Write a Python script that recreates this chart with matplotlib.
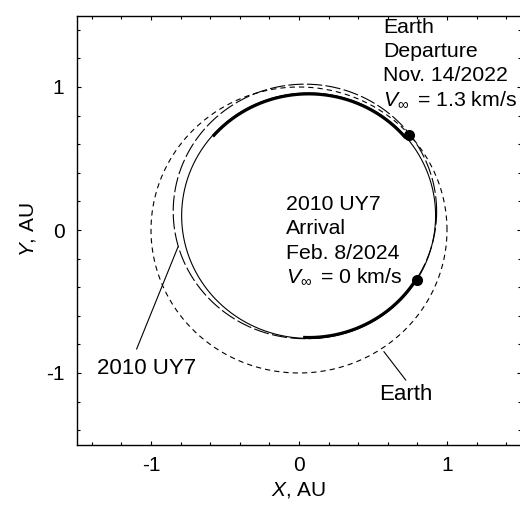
import numpy as np
import matplotlib
matplotlib.use("Agg")
import matplotlib.pyplot as plt
from matplotlib.ticker import MultipleLocator

plt.rcParams['font.family'] = ['Liberation Sans', 'DejaVu Sans']
plt.rcParams['mathtext.fontset'] = 'custom'
plt.rcParams['mathtext.rm'] = 'Liberation Sans'
plt.rcParams['mathtext.it'] = 'Liberation Sans:italic'
plt.rcParams['axes.unicode_minus'] = False
plt.rcParams['lines.scale_dashes'] = False

# ---- data (AU) ----
earth_center = (0.0, 0.0)
earth_radius = 1.0
uy7_center = (0.04, 0.13)
uy7_radius = 0.89
transfer_center = (0.065, 0.10)
transfer_radius = 0.858
thrust_arcs_deg = [(39.7, 139.4), (267.5, 328.4)]
departure_xy = (0.745, 0.664)
arrival_xy = (0.795, -0.35)

departure_lines = ["Earth", "Departure", "Nov. 14/2022", r"$V_{\infty}\,$ = 1.3 km/s"]
arrival_lines = ["2010 UY7", "Arrival", "Feb. 8/2024", r"$V_{\infty}\,$ = 0 km/s"]
x_ticks = [-1, 0, 1]
y_ticks = [-1, 0, 1]

W, H = 520, 507
fig = plt.figure(figsize=(W / 100, H / 100), dpi=100)
ax = fig.add_axes([77 / W, (H - 444.5) / H, 444 / W, 429 / H])

t = np.linspace(0, 2 * np.pi, 721)
thin = 0.8

# Earth orbit (short dash)
ax.plot(earth_center[0] + earth_radius * np.cos(t), earth_center[1] + earth_radius * np.sin(t),
        color='black', lw=thin, dashes=(3.8, 2.9))
# 2010 UY7 orbit (long dash)
ax.plot(uy7_center[0] + uy7_radius * np.cos(t), uy7_center[1] + uy7_radius * np.sin(t),
        color='black', lw=thin, dashes=(11, 2.4))
# transfer trajectory (thin solid)
ax.plot(transfer_center[0] + transfer_radius * np.cos(t), transfer_center[1] + transfer_radius * np.sin(t),
        color='black', lw=thin)
# thrust arcs (thick)
for a0, a1 in thrust_arcs_deg:
    a = np.radians(np.linspace(a0, a1, 200))
    ax.plot(transfer_center[0] + (transfer_radius - 0.006) * np.cos(a),
            transfer_center[1] + (transfer_radius - 0.006) * np.sin(a),
            color='black', lw=2.3, solid_capstyle='butt')

ax.plot(*departure_xy, 'o', color='black', ms=7)
ax.plot(*arrival_xy, 'o', color='black', ms=7)

fs = 15.3
dy = 24.4 / 143
for i, s in enumerate(departure_lines):
    ax.text(0.570, 1.380 - i * dy, s, fontsize=fs, ha='left', va='baseline')
for i, s in enumerate(arrival_lines):
    ax.text(-0.088, 0.140 - i * dy, s, fontsize=fs, ha='left', va='baseline')

ax.text(-1.365, -1.009, "2010 UY7", fontsize=16, ha='left', va='baseline')
ax.plot([-1.097, -0.818], [-0.832, -0.119], color='black', lw=thin)
ax.text(0.543, -1.189, "Earth", fontsize=16, ha='left', va='baseline')
ax.plot([0.721, 0.574], [-1.049, -0.851], color='black', lw=thin)

ax.set_xlim(-1.5, 1.5)
ax.set_ylim(-1.5, 1.5)
ax.set_xticks(x_ticks)
ax.set_yticks(y_ticks)
ax.xaxis.set_minor_locator(MultipleLocator(0.2))
ax.yaxis.set_minor_locator(MultipleLocator(0.2))
ax.tick_params(which='both', direction='in', top=True, right=True, width=0.8, labelsize=15)
ax.tick_params(which='major', length=3)
ax.tick_params(which='minor', length=2)
ax.tick_params(axis='x', pad=8)
ax.tick_params(axis='y', pad=9)
for sp in ax.spines.values():
    sp.set_linewidth(1.0)

ax.set_xlabel(r"$X$, AU", fontsize=15, labelpad=4)
ax.set_ylabel(r"$Y$, AU", fontsize=15, labelpad=6)

fig.savefig("out.png", dpi=100)
